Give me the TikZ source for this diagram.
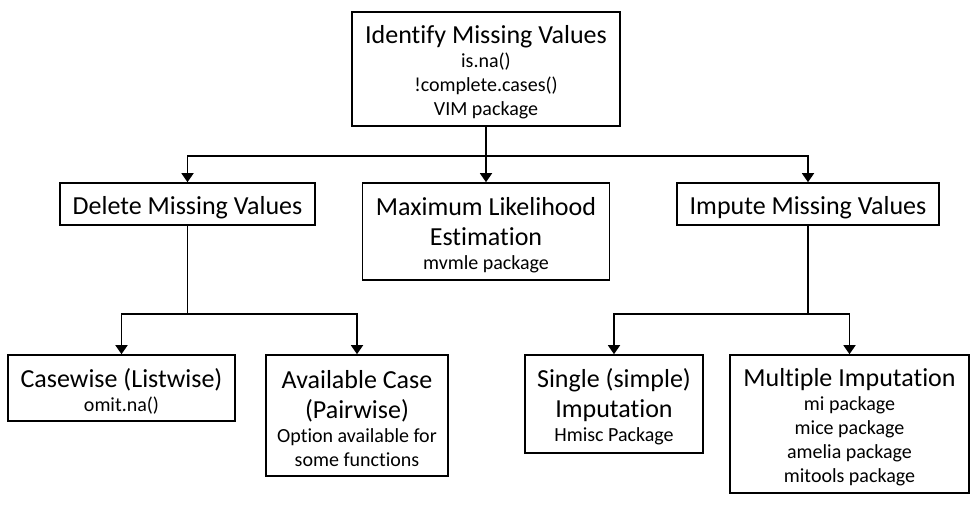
\documentclass[tikz,border=0pt]{standalone}
\usepackage{fontspec}
\setmainfont{Carlito}[Ligatures=NoCommon]
\usepackage{tikz}
\usetikzlibrary{arrows.meta,positioning,calc}
\newcommand{\headfont}{\fontsize{26}{30}\selectfont}
\newcommand{\subfont}{\fontsize{20}{24}\selectfont}
\newcommand{\toppad}{\rule{0pt}{25pt}}

\begin{document}
\begin{tikzpicture}[
  x=1pt, y=-1pt,
  mbox/.style={draw, line width=1.6pt, inner sep=0pt, align=center,
    font=\subfont},
  conn/.style={line width=1.6pt},
  arr/.style={-{Triangle[width=12pt,length=9pt]}, line width=1.6pt}
]
  \useasboundingbox (0,0) rectangle (977,529);

  % Boxes
  \node[mbox, minimum width=268pt, minimum height=114pt] (identify) at (486,69)
    {{\headfont\toppad Identify Missing Values}\\is.na()\\!complete.cases()\\VIM package};
  \node[mbox, minimum width=255pt, minimum height=42pt] (delete) at (187.5,204)
    {{\headfont\toppad Delete Missing Values}};
  \node[mbox, minimum width=247pt, minimum height=97pt] (mle) at (486,231.5)
    {{\headfont\toppad Maximum Likelihood}\\[6pt]{\headfont Estimation}\\mvmle package};
  \node[mbox, minimum width=262pt, minimum height=42pt] (impute) at (808,204)
    {{\headfont\toppad Impute Missing Values}};
  \node[mbox, minimum width=227pt, minimum height=66pt] (casewise) at (121.5,388)
    {{\headfont\toppad Casewise (Listwise)}\\omit.na()};
  \node[mbox, minimum width=182pt, minimum height=121pt] (available) at (357,415.5)
    {{\headfont\toppad Available Case}\\[6pt]{\headfont (Pairwise)}\\Option available for\\some functions};
  \node[mbox, minimum width=178pt, minimum height=98pt] (single) at (614,404)
    {{\headfont\toppad Single (simple)}\\[6pt]{\headfont Imputation}\\Hmisc Package};
  \node[mbox, minimum width=239pt, minimum height=138pt] (multiple) at (849.5,424)
    {{\headfont\toppad Multiple Imputation}\\mi package\\mice package\\amelia package\\mitools package};

  % Junctions
  \coordinate[below=29pt of identify.south] (topjoin);
  \coordinate[below=88pt of delete.south] (deljoin);
  \coordinate[below=88pt of impute.south] (impjoin);

  % Connectors
  \draw[arr] (identify) -- (mle);
  \draw[arr] (topjoin) -| (delete);
  \draw[arr] (topjoin) -| (impute);
  \draw[conn] (delete) -- (deljoin);
  \draw[arr] (deljoin) -| (casewise);
  \draw[arr] (deljoin) -| (available);
  \draw[conn] (impute) -- (impjoin);
  \draw[arr] (impjoin) -| (single);
  \draw[arr] (impjoin) -| (multiple);
\end{tikzpicture}
\end{document}
